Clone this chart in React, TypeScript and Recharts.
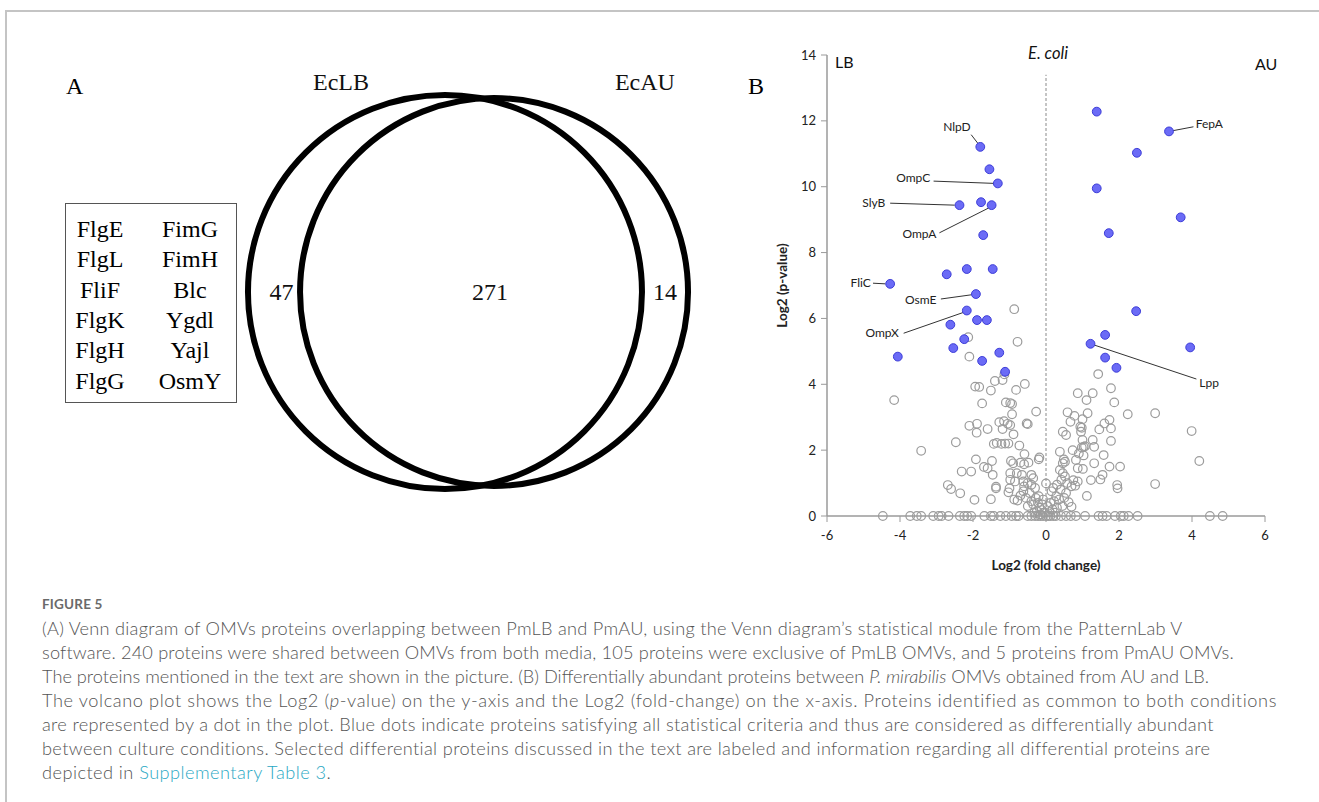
import React from "react";
import { ScatterChart, Scatter, XAxis, YAxis, ReferenceLine, Label } from "recharts";

// ---- panel B: volcano plot data (Log2 fold change, Log2 p-value) ----
const xTicks = [-6, -4, -2, 0, 2, 4, 6];
const yTicks = [0, 2, 4, 6, 8, 10, 12, 14];

const bluePoints: [number, number][] = [
  [-1.8, 11.21], [-1.55, 10.53], [-1.32, 10.1], [-2.37, 9.44], [-1.78, 9.53], [-1.49, 9.44],
  [-1.72, 8.53], [-2.72, 7.34], [-2.17, 7.5], [-1.46, 7.5], [-4.27, 7.05], [-1.92, 6.74],
  [-2.17, 6.24], [-2.62, 5.81], [-1.89, 5.95], [-1.62, 5.95], [-2.24, 5.37], [-2.54, 5.1],
  [-4.06, 4.84], [-1.28, 4.96], [-1.75, 4.71], [-1.12, 4.38],
  [1.39, 12.28], [3.37, 11.68], [2.49, 11.03], [1.39, 9.95], [3.69, 9.07], [1.72, 8.59],
  [2.47, 6.22], [1.62, 5.5], [1.22, 5.23], [3.95, 5.12], [1.62, 4.81], [1.93, 4.5],
];

const grayZeroFold = [
  -4.47, -3.72, -3.54, -3.42, -3.09, -2.94, -2.86, -2.67, -2.36, -2.24, -2.16, -2.05, -1.69,
  -1.51, -1.43, -1.25, -1.1, -0.94, -0.82, -0.75, -0.5, -0.4, -0.3, -0.22, -0.15, -0.08, 0,
  0.06, 0.12, 0.2, 0.27, 0.41, 0.55, 0.68, 0.82, 1.07, 1.44, 1.55, 1.66, 1.89, 2.05, 2.13,
  2.26, 2.51, 4.49, 4.84,
];

const grayPoints: [number, number][] = [
  [-4.16, 3.52], [-3.42, 1.98], [-2.13, 5.43], [-2.1, 4.84], [-0.87, 6.28], [-0.78, 5.29],
  [-1.14, 4.3], [-1.4, 4.1], [-1.19, 4.13], [-1.94, 3.93], [-1.83, 3.92], [-1.51, 3.81],
  [-0.82, 3.83], [-0.58, 4.01], [-1.75, 3.42], [-1.1, 3.45], [-0.98, 3.43], [-0.93, 3.4],
  [-0.27, 3.17], [-0.93, 3.09], [-2.1, 2.74], [-1.89, 2.8], [-1.9, 2.53], [-1.6, 2.64],
  [-1.28, 2.85], [-1.15, 2.88], [-1.05, 2.8], [-0.98, 2.76], [-1.19, 2.64], [-0.89, 2.48],
  [-0.53, 2.81], [-0.5, 2.79], [-2.47, 2.24], [-1.43, 2.19], [-1.35, 2.22], [-1.22, 2.19],
  [-1.12, 2.2], [-1.03, 2.2], [-0.73, 2.14], [-0.59, 1.88], [-0.18, 1.78], [-0.2, 1.72],
  [-1.92, 1.72], [-1.48, 1.67], [-1.7, 1.49], [-1.6, 1.45], [-1.46, 1.25], [-0.96, 1.67],
  [-0.9, 1.6], [-0.7, 1.62], [-0.6, 1.57], [-0.48, 1.62], [-2.31, 1.35], [-2.05, 1.35],
  [-0.98, 1.3], [-0.8, 1.3], [-0.66, 1.25], [-0.4, 1.25], [-0.35, 1.15], [-0.98, 1.1],
  [-0.85, 1.05], [-0.62, 1.05], [-0.5, 1.0], [-0.4, 0.95], [-0.3, 0.85], [-2.69, 0.94],
  [-2.6, 0.82], [-2.35, 0.69], [-1.96, 0.49], [-1.51, 0.51], [-1.37, 0.89], [-1.37, 0.84],
  [-1.0, 0.84], [-1.03, 0.72], [-0.87, 0.5], [-0.78, 0.47], [-0.7, 0.62], [-0.62, 0.75],
  [-0.55, 0.55], [-0.45, 0.7], [-0.4, 0.45], [-0.35, 0.35], [-0.28, 0.55], [-0.22, 0.4],
  [-0.18, 0.25], [-0.25, 0.15], [-0.12, 0.18], [-0.1, 0.35], [-0.05, 0.1], [-0.32, 0.1],
  [-0.15, 0.05], [0.0, 0.99], [-0.2, 0.6], [-0.08, 0.5], [-0.5, 0.3], [-0.6, 0.9],
  [1.43, 4.31], [1.78, 3.88], [0.87, 3.73], [1.11, 3.52], [1.28, 3.73], [1.87, 3.45],
  [0.59, 3.15], [0.78, 3.04], [1.14, 3.12], [0.67, 2.86], [1.0, 2.94], [2.24, 3.09],
  [2.99, 3.12], [1.6, 2.81], [1.74, 2.92], [1.78, 2.66], [1.46, 2.63], [0.94, 2.71],
  [0.98, 2.68], [0.96, 2.56], [0.46, 2.56], [0.55, 2.46], [1.0, 2.31], [1.28, 2.31],
  [1.78, 2.28], [0.38, 1.95], [0.73, 2.0], [0.98, 2.08], [1.03, 2.1], [1.07, 2.12],
  [1.32, 2.1], [0.9, 1.9], [1.03, 1.84], [0.49, 1.72], [0.52, 1.65], [0.46, 1.6],
  [0.82, 1.7], [1.58, 1.85], [1.32, 1.6], [0.87, 1.45], [1.01, 1.43], [1.74, 1.5],
  [2.03, 1.5], [0.38, 1.4], [0.46, 1.3], [0.52, 1.2], [0.42, 1.1], [0.58, 1.0],
  [1.23, 1.09], [1.55, 1.25], [1.49, 1.11], [0.75, 1.09], [0.87, 1.05], [0.7, 0.9],
  [0.8, 0.92], [1.95, 0.94], [1.96, 0.84], [2.99, 0.97], [1.12, 0.61], [3.99, 2.58],
  [4.2, 1.67], [0.15, 0.75], [0.28, 0.6], [0.36, 0.5], [0.22, 0.45], [0.5, 0.55],
  [0.62, 0.42], [0.7, 0.28], [0.45, 0.3], [0.3, 0.25], [0.18, 0.2], [0.1, 0.12],
  [0.25, 0.1], [0.05, 0.3], [0.4, 0.8], [0.3, 0.95], [0.55, 0.7], [0.12, 0.4], [0.2, 0.85],
];

// labelled proteins: text position, leader line start and end (data units)
const proteinLabels = [
  { name: "NlpD", text: [-2.44, 11.84], from: [-2.05, 11.58], to: [-1.82, 11.25], anchor: "middle" },
  { name: "OmpC", text: [-3.17, 10.29], from: [-3.08, 10.17], to: [-1.4, 10.1], anchor: "end" },
  { name: "SlyB", text: [-4.4, 9.52], from: [-4.27, 9.5], to: [-2.5, 9.44], anchor: "end" },
  { name: "OmpA", text: [-3.0, 8.59], from: [-2.92, 8.6], to: [-1.56, 9.36], anchor: "end" },
  { name: "FliC", text: [-4.8, 7.08], from: [-4.74, 7.07], to: [-4.4, 7.05], anchor: "end" },
  { name: "OsmE", text: [-3.0, 6.59], from: [-2.88, 6.59], to: [-2.03, 6.72], anchor: "end" },
  { name: "OmpX", text: [-4.03, 5.56], from: [-3.9, 5.55], to: [-2.27, 6.18], anchor: "end" },
  { name: "FepA", text: [4.1, 11.92], from: [4.04, 11.82], to: [3.47, 11.7], anchor: "start" },
  { name: "Lpp", text: [4.2, 4.05], from: [4.12, 4.16], to: [1.3, 5.2], anchor: "start" },
];

// ---- panel A: Venn diagram ----
const vennSets = ["EcLB", "EcAU"];
const vennCenters = [0.005, 0.254];
const vennCounts = [47, 271, 14];
const vennCountX = [-0.825, 0.234, 1.122];
const vennNameX = [-0.523, 1.02];
const ringRadius = [197, 194];

const tableLeft = ["FlgE", "FlgL", "FliF", "FlgK", "FlgH", "FlgG"];
const tableRight = ["FimG", "FimH", "Blc", "Ygdl", "Yajl", "OsmY"];

const serif = "'Liberation Serif', 'Times New Roman', serif";
const sans = "Lato, 'Liberation Sans', sans-serif";

const GrayRing = (p: any) => (
  <circle cx={p.cx} cy={p.cy} r={4.3} fill="none" stroke="#9c9c9c" strokeWidth={1.2} />
);
const BlueDot = (p: any) => (
  <circle cx={p.cx} cy={p.cy} r={4.4} fill="#6b6bf6" stroke="#3d3dd8" strokeWidth={1} />
);
const ProteinText = (p: any) => (
  <text x={p.cx} y={p.cy} textAnchor={p.payload.anchor} dominantBaseline="central"
    fontFamily={sans} fontSize={12} fill="#222">{p.payload.name}</text>
);

function Volcano() {
  const gray = [
    ...grayZeroFold.map((x) => ({ x, y: 0 })),
    ...grayPoints.map(([x, y]) => ({ x, y })),
  ];
  const blue = bluePoints.map(([x, y]) => ({ x, y }));
  const labels = proteinLabels.map((l) => ({ x: l.text[0], y: l.text[1], name: l.name, anchor: l.anchor }));
  return (
    <ScatterChart width={560} height={540} margin={{ top: 15, right: 35, bottom: 34, left: 27 }}>
      <XAxis type="number" dataKey="x" domain={[-6, 6]} ticks={xTicks} height={30}
        axisLine={{ stroke: "#9a9a9a", strokeWidth: 1.5 }} tickLine={{ stroke: "#9a9a9a" }}
        tick={{ fill: "#222", fontSize: 13, fontFamily: sans }} tickMargin={9}>
        <Label content={({ viewBox }: any) => (
          <text x={viewBox.x + viewBox.width / 2} y={viewBox.y + viewBox.height + 19}
            textAnchor="middle" dominantBaseline="central" fontFamily={sans} fontWeight={700}
            fontSize={13.5} fill="#222">Log2 (fold change)</text>
        )} />
      </XAxis>
      <YAxis type="number" dataKey="y" domain={[0, 14]} ticks={yTicks} width={60}
        axisLine={{ stroke: "#9a9a9a", strokeWidth: 1.5 }} tickLine={{ stroke: "#9a9a9a" }}
        tick={{ fill: "#222", fontSize: 13, fontFamily: sans }} tickMargin={5}>
        <Label content={({ viewBox }: any) => {
          const cx = viewBox.x + 15;
          const cy = viewBox.y + viewBox.height / 2;
          return (
            <text x={cx} y={cy} transform={`rotate(-90 ${cx} ${cy})`} textAnchor="middle"
              dominantBaseline="central" fontFamily={sans} fontWeight={700} fontSize={13.5}
              fill="#222">Log2 (p-value)</text>
          );
        }} />
      </YAxis>
      <ReferenceLine segment={[{ x: 0, y: 0 }, { x: 0, y: 13.4 }]} stroke="#8a8a8a"
        strokeDasharray="3 2" strokeWidth={1} />
      <Scatter data={gray} shape={GrayRing} isAnimationActive={false} />
      <Scatter data={blue} shape={BlueDot} isAnimationActive={false} />
      {proteinLabels.map((l) => (
        <ReferenceLine key={l.name} segment={[{ x: l.from[0], y: l.from[1] }, { x: l.to[0], y: l.to[1] }]}
          stroke="#333" strokeWidth={1} />
      ))}
      <Scatter data={labels} shape={ProteinText} isAnimationActive={false} />
    </ScatterChart>
  );
}

const VennText = (p: any) => (
  <text x={p.cx} y={p.cy} textAnchor="middle" dominantBaseline="central" fontFamily={serif}
    fontSize={24} fill="#111">{p.payload.label}</text>
);
const VennRing = (p: any) => (
  <circle cx={p.cx} cy={p.cy} r={ringRadius[p.index] ?? 197} fill="none" stroke="#000" strokeWidth={6} />
);

function Venn() {
  const rings = vennSets.map((name, i) => ({ x: vennCenters[i], y: 0, name }));
  const counts = vennCounts.map((c, i) => ({ x: vennCountX[i], y: 0, label: String(c) }));
  const names = vennSets.map((name, i) => ({ x: vennNameX[i], y: 1.066, label: name }));
  return (
    <ScatterChart width={460} height={450} margin={{ top: 0, right: 0, bottom: 0, left: 0 }}>
      <XAxis type="number" dataKey="x" domain={[-1.0355, 1.2995]} hide />
      <YAxis type="number" dataKey="y" domain={[-1.1066, 1.1777]} hide />
      <Scatter data={rings} shape={VennRing} isAnimationActive={false} />
      <Scatter data={counts} shape={VennText} isAnimationActive={false} />
      <Scatter data={names} shape={VennText} isAnimationActive={false} />
    </ScatterChart>
  );
}

const abs = (left: number, top: number): React.CSSProperties => ({ position: "absolute", left, top });

export default function App() {
  const line = (top: number, spacing: number): React.CSSProperties => ({
    position: "absolute", left: 42, top, whiteSpace: "nowrap", fontFamily: sans, fontWeight: 300,
    fontSize: 18.2, color: "#555", lineHeight: "24px", letterSpacing: spacing,
  });
  return (
    <div style={{ position: "absolute", left: 0, top: 0, width: 1319, height: 802, background: "#fff", overflow: "hidden" }}>
      <div style={{ position: "absolute", left: 5, top: 10, width: 1314, height: 0, borderTop: "2px solid #c4c4c4" }} />
      <div style={{ position: "absolute", left: 5, top: 10, width: 0, height: 792, borderLeft: "2px solid #c4c4c4" }} />

      {/* panel A */}
      <div style={{ ...abs(66, 73), fontFamily: serif, fontSize: 24 }}>A</div>
      <div style={{ ...abs(240, 60) }}><Venn /></div>
      <div style={{ ...abs(65, 203), width: 170, height: 198, border: "1px solid #555" }}>
        {tableLeft.map((t, i) => (
          <React.Fragment key={t}>
            <div style={{ position: "absolute", left: 0, width: 68, top: 10 + i * 30.3, textAlign: "center", fontFamily: serif, fontSize: 24, lineHeight: "30px" }}>{t}</div>
            <div style={{ position: "absolute", left: 80, width: 88, top: 10 + i * 30.3, textAlign: "center", fontFamily: serif, fontSize: 24, lineHeight: "30px" }}>{tableRight[i]}</div>
          </React.Fragment>
        ))}
      </div>

      {/* panel B */}
      <div style={{ ...abs(748, 73), fontFamily: serif, fontSize: 24 }}>B</div>
      <div style={{ ...abs(740, 40) }}><Volcano /></div>
      <div style={{ ...abs(835, 52), fontFamily: sans, fontSize: 16, color: "#111" }}>LB</div>
      <div style={{ ...abs(1255, 54), fontFamily: sans, fontSize: 16, color: "#111" }}>AU</div>
      <div style={{ ...abs(1028, 43), fontFamily: sans, fontSize: 16.5, fontStyle: "italic", color: "#111" }}>E. coli</div>

      {/* caption */}
      <div style={{ ...abs(42, 596), fontFamily: sans, fontWeight: 700, fontSize: 13.5, color: "#6a6a6a", letterSpacing: 0.2 }}>FIGURE 5</div>
      <div style={line(616, 0.26)}>
        (A) Venn diagram of OMVs proteins overlapping between PmLB and PmAU, using the Venn diagram’s statistical module from the PatternLab V
      </div>
      <div style={line(640, 0.16)}>
        software. 240 proteins were shared between OMVs from both media, 105 proteins were exclusive of PmLB OMVs, and 5 proteins from PmAU OMVs.
      </div>
      <div style={line(664, 0)}>
        The proteins mentioned in the text are shown in the picture. (B) Differentially abundant proteins between <i>P. mirabilis</i> OMVs obtained from AU and LB.
      </div>
      <div style={line(688, 0.6)}>
        The volcano plot shows the Log2 (<i>p</i>-value) on the y-axis and the Log2 (fold-change) on the x-axis. Proteins identified as common to both conditions
      </div>
      <div style={line(712, 0.32)}>
        are represented by a dot in the plot. Blue dots indicate proteins satisfying all statistical criteria and thus are considered as differentially abundant
      </div>
      <div style={line(736, 0.35)}>
        between culture conditions. Selected differential proteins discussed in the text are labeled and information regarding all differential proteins are
      </div>
      <div style={line(760, 0.45)}>
        depicted in <span style={{ color: "#2aa8c4" }}>Supplementary Table 3</span>.
      </div>
    </div>
  );
}
